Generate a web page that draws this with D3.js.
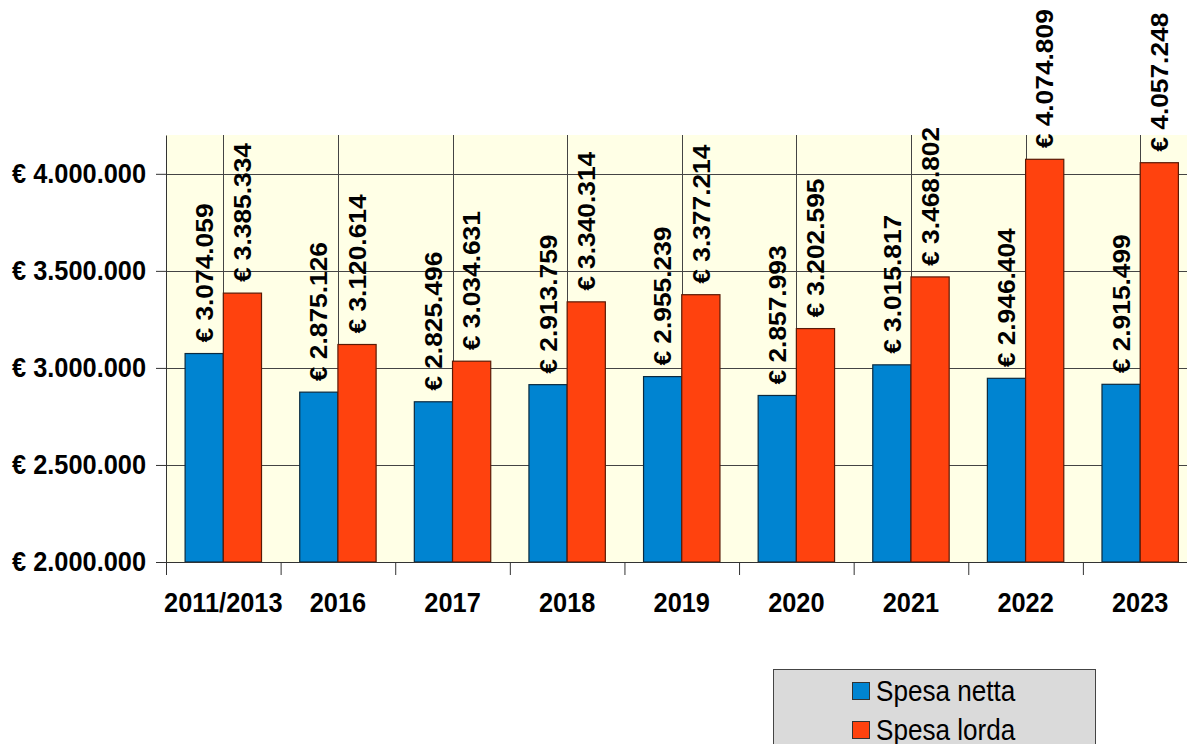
<!DOCTYPE html>
<html>
<head>
  <meta charset="utf-8">
  <style>
    body { margin: 0; background: #fff; }
    svg { display: block; }
    text { font-family: "Liberation Sans", Arial, sans-serif; fill: #000; }
    .axis path, .axis line { stroke: #333; }
    .grid line { stroke: #444; stroke-width: 1; }
  </style>
  <script src="https://d3js.org/d3.v7.min.js"></script>
</head>
<body>
<script>
  // data
  var categories = ["2011/2013", "2016", "2017", "2018", "2019", "2020", "2021", "2022", "2023"];
  var spesaNetta = [3074059, 2875126, 2825496, 2913759, 2955239, 2857993, 3015817, 2946404, 2915499];
  var spesaLorda = [3385334, 3120614, 3034631, 3340314, 3377214, 3202595, 3468802, 4074809, 4057248];
  var seriesNames = ["Spesa netta", "Spesa lorda"];
  var seriesColors = ["#0084d1", "#ff420e"];
  var yTicks = [2000000, 2500000, 3000000, 3500000, 4000000];

  var width = 1187, height = 744;
  var plot = {left: 166, right: 1197.5, top: 135, bottom: 562};

  var itLocale = d3.formatLocale({decimal: ",", thousands: ".", grouping: [3], currency: ["€ ", ""]});
  var euro = itLocale.format("$,.0f");

  var x = d3.scaleBand()
      .domain(categories)
      .range([plot.left, plot.right])
      .padding(0);
  var xIdx = d3.scaleLinear()
      .domain([0, categories.length])
      .range([plot.left, plot.right]);
  var y = d3.scaleLinear()
      .domain([2000000, 4200000])
      .range([plot.bottom, plot.top]);

  var svg = d3.select("body").append("svg")
      .attr("width", width)
      .attr("height", height);

  // plot wall
  svg.append("rect")
      .attr("x", plot.left)
      .attr("y", plot.top)
      .attr("width", plot.right - plot.left)
      .attr("height", plot.bottom - plot.top)
      .attr("fill", "#ffffe6");

  // grid
  var grid = svg.append("g").attr("class", "grid");
  grid.selectAll(".h").data(yTicks.slice(1)).enter().append("line")
      .attr("x1", plot.left).attr("x2", plot.right)
      .attr("y1", function(d) { return Math.round(y(d)) + 0.5; })
      .attr("y2", function(d) { return Math.round(y(d)) + 0.5; });
  grid.selectAll(".v").data(categories).enter().append("line")
      .attr("x1", function(d) { return Math.round(x(d) + x.bandwidth() / 2) + 0.5; })
      .attr("x2", function(d) { return Math.round(x(d) + x.bandwidth() / 2) + 0.5; })
      .attr("y1", plot.top).attr("y2", plot.bottom);

  // bars
  var bw = x.bandwidth() / 3;
  var series = [spesaNetta, spesaLorda];
  series.forEach(function(vals, s) {
    var g = svg.append("g");
    g.selectAll("rect").data(vals).enter().append("rect")
        .attr("x", function(d, i) { return x(categories[i]) + bw / 2 + s * bw; })
        .attr("y", function(d) { return y(d); })
        .attr("width", bw)
        .attr("height", function(d) { return y(2000000) - y(d); })
        .attr("fill", seriesColors[s])
        .attr("stroke", s === 0 ? "#0b2a3f" : "#5a1a06")
        .attr("stroke-width", 1.2);
  });

  // y axis
  var yAxis = svg.append("g")
      .attr("class", "axis")
      .attr("transform", "translate(" + plot.left + ",0)")
      .call(d3.axisLeft(y).tickValues(yTicks).tickSize(10).tickSizeOuter(0).tickFormat(euro));
  yAxis.selectAll("text")
      .attr("x", null)
      .attr("transform", "translate(-20,0) scale(0.906,1)")
      .attr("font-size", 28)
      .attr("font-weight", "bold")
      .attr("font-family", "Liberation Sans, Arial, sans-serif");

  // x axis: line and boundary ticks
  svg.append("g")
      .attr("class", "axis")
      .attr("transform", "translate(0," + plot.bottom + ")")
      .call(d3.axisBottom(xIdx).tickValues(d3.range(0, categories.length + 1)).tickSize(13).tickSizeOuter(0).tickFormat(""));
  // x axis: category labels
  var xLab = svg.append("g")
      .attr("transform", "translate(0," + plot.bottom + ")")
      .call(d3.axisBottom(x).tickSize(0).tickPadding(30));
  xLab.select(".domain").remove();
  xLab.selectAll("text")
      .attr("transform", function() { return "scale(0.906,1)"; })
      .attr("x", function(d) { return 0; })
      .attr("font-size", 28)
      .attr("font-weight", "bold")
      .attr("font-family", "Liberation Sans, Arial, sans-serif");

  // value labels
  series.forEach(function(vals, s) {
    svg.append("g").selectAll("text").data(vals).enter().append("text")
        .attr("transform", function(d, i) {
          var cx = x(categories[i]) + bw / 2 + s * bw + bw / 2;
          return "translate(" + cx + "," + (y(d) - 11) + ") rotate(-90) scale(1.097,1)";
        })
        .attr("dy", "0.36em")
        .attr("font-size", 24)
        .attr("font-weight", "bold")
        .text(function(d) { return euro(d); });
  });

  // legend
  var legend = svg.append("g");
  legend.append("rect")
      .attr("x", 773.5).attr("y", 669.5)
      .attr("width", 322).attr("height", 100)
      .attr("fill", "#dadada")
      .attr("stroke", "#444");
  seriesNames.forEach(function(name, i) {
    legend.append("rect")
        .attr("x", 852.5).attr("y", 682.5 + i * 39)
        .attr("width", 17).attr("height", 17)
        .attr("fill", seriesColors[i])
        .attr("stroke", "#333");
    legend.append("text")
        .attr("transform", "translate(876," + (701 + i * 39) + ") scale(0.9,1)")
        .attr("font-size", 29)
        .text(name);
  });
</script>
</body>
</html>
